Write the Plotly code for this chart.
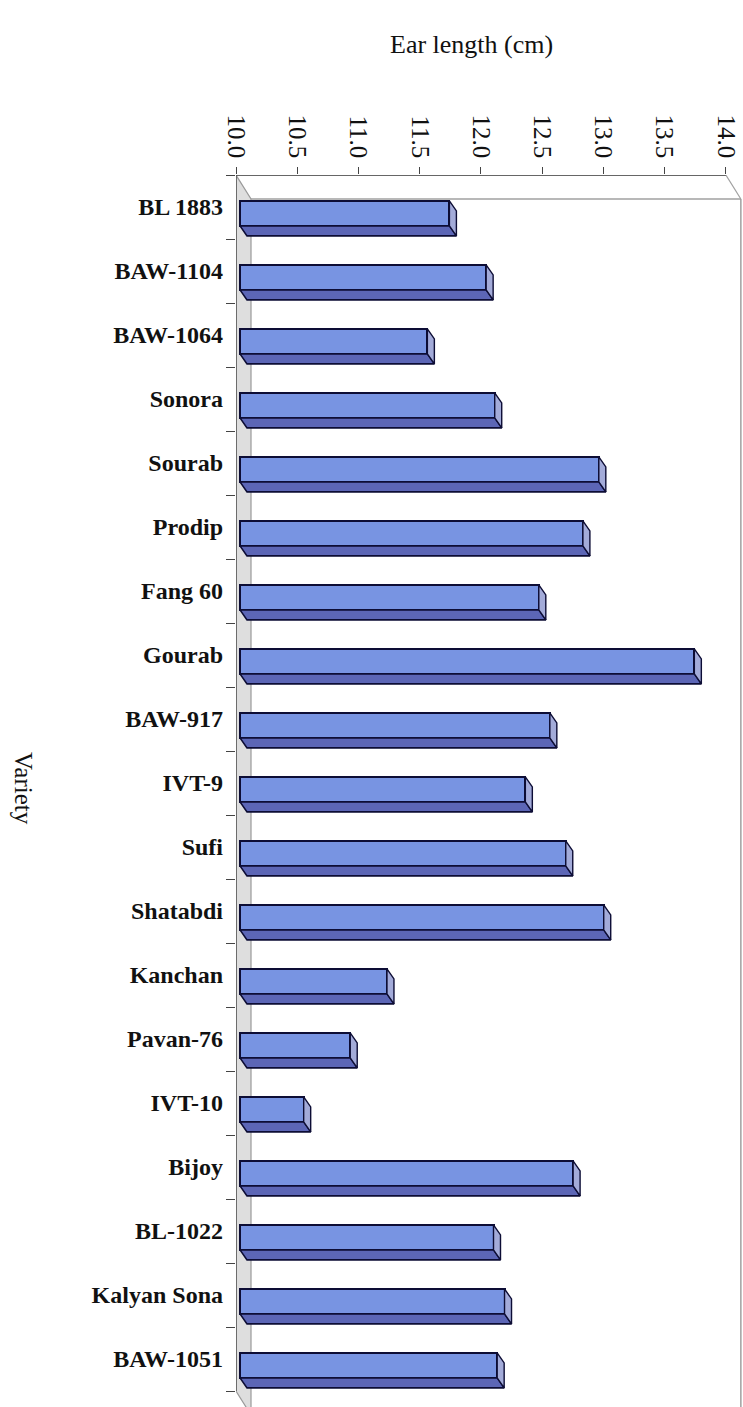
import numpy as np
import plotly.graph_objects as go

# ---------------- data ----------------
varieties = ["BL 1883", "BAW-1104", "BAW-1064", "Sonora", "Sourab", "Prodip",
             "Fang 60", "Gourab", "BAW-917", "IVT-9", "Sufi", "Shatabdi",
             "Kanchan", "Pavan-76", "IVT-10", "Bijoy", "BL-1022",
             "Kalyan Sona", "BAW-1051"]
ear_length = [11.71, 12.01, 11.53, 12.08, 12.93, 12.80, 12.44, 13.71, 12.53,
              12.33, 12.66, 12.97, 11.20, 10.90, 10.52, 12.72, 12.07, 12.16, 12.10]
x_ticks = [10.0, 10.5, 11.0, 11.5, 12.0, 12.5, 13.0, 13.5, 14.0]

# ---------------- geometry / style ----------------
W, H = 743, 1407
ML, MT = 236, 175
XMIN, XMAX = 10.0, 14.14
YTOP, YBOT = -0.5, 18.75
px_x = (W - ML) / (XMAX - XMIN)          # pixels per cm
px_y = (H - MT) / (YBOT - YTOP)          # pixels per category

WALL_DX = 15 / px_x
WALL_DY = 24 / px_y
BAR_DX = 7 / px_x
BAR_DY = 10 / px_y
BAR_OFF_X = 4 / px_x
BAR_OFF_Y = 6.4 / px_y
BAR_W = 25 / px_y

FRONT = "#7894e2"
BOTTOM = "#5c66b6"
SIDE = "#a3abd9"
EDGE = "#0d0d35"
SERIF = "Times New Roman, Liberation Serif, Tinos, serif"

pos = np.arange(len(varieties), dtype=float)
vals = np.array(ear_length)
base0 = XMIN + BAR_OFF_X
lengths = vals - XMIN
yc = pos + BAR_OFF_Y
yt = yc - BAR_W / 2
yb = yc + BAR_W / 2
xe = base0 + lengths

fig = go.Figure()

# bottom faces
bx, by = [], []
for x1, t, b in zip(xe, yt, yb):
    bx += [base0, x1, x1 + BAR_DX, base0 + BAR_DX, base0, None]
    by += [b, b, b + BAR_DY, b + BAR_DY, b, None]
fig.add_trace(go.Scatter(x=bx, y=by, mode="lines", fill="toself",
                         fillcolor=BOTTOM, line=dict(color=EDGE, width=1.6),
                         hoverinfo="skip", showlegend=False))
# side faces
sx, sy = [], []
for x1, t, b in zip(xe, yt, yb):
    sx += [x1, x1 + BAR_DX, x1 + BAR_DX, x1, x1, None]
    sy += [t, t + BAR_DY, b + BAR_DY, b, t, None]
fig.add_trace(go.Scatter(x=sx, y=sy, mode="lines", fill="toself",
                         fillcolor=SIDE, line=dict(color=EDGE, width=1.4),
                         hoverinfo="skip", showlegend=False))
# front faces
fig.add_trace(go.Bar(y=yc, x=lengths, base=base0, orientation="h", width=BAR_W,
                     marker=dict(color=FRONT, line=dict(color=EDGE, width=2)),
                     showlegend=False, hovertext=varieties))

# ---------------- walls / frame ----------------
shapes = []
x0w, x1w = XMIN, XMIN + WALL_DX
ytf, ybf = YTOP, len(varieties) - 0.5
shapes.append(dict(type="path", xref="x", yref="y",
                   path=f"M {x0w},{ytf} L {x1w},{ytf+WALL_DY} L {x1w},{ybf+WALL_DY} L {x0w},{ybf} Z",
                   fillcolor="#dedede", line=dict(color="#9a9a9a", width=1.2), layer="below"))
shapes.append(dict(type="line", xref="x", yref="y", x0=x1w, y0=ytf + WALL_DY,
                   x1=14.0 + WALL_DX, y1=ytf + WALL_DY, line=dict(color="#a0a0a0", width=1.5), layer="below"))
shapes.append(dict(type="line", xref="x", yref="y", x0=14.0 + WALL_DX, y0=ytf + WALL_DY,
                   x1=14.0 + WALL_DX, y1=ybf + WALL_DY, line=dict(color="#a0a0a0", width=1.5), layer="below"))
shapes.append(dict(type="line", xref="x", yref="y", x0=14.0, y0=ytf,
                   x1=14.0 + WALL_DX, y1=ytf + WALL_DY, line=dict(color="#a0a0a0", width=1.2), layer="below"))
shapes.append(dict(type="line", xref="x", yref="y", x0=XMIN, y0=ytf, x1=14.0, y1=ytf,
                   line=dict(color="#333333", width=1.5)))
shapes.append(dict(type="line", xref="x", yref="y", x0=XMIN, y0=ytf, x1=XMIN, y1=ybf,
                   line=dict(color="#555555", width=1.5)))

fig.update_layout(
    width=W, height=H,
    margin=dict(l=ML, r=0, t=MT, b=0, autoexpand=False),
    paper_bgcolor="white", plot_bgcolor="white",
    font=dict(family=SERIF),
    shapes=shapes,
    bargap=0,
    xaxis=dict(range=[XMIN, XMAX], side="top", tickvals=x_ticks,
               ticktext=[f"{t:.1f}" for t in x_ticks], tickangle=90,
               ticks="outside", ticklen=7, tickcolor="#444444", tickwidth=1.2,
               showgrid=False, zeroline=False, showline=False,
               tickfont=dict(family=SERIF, size=25, color="#111111")),
    yaxis=dict(range=[YBOT, YTOP], tickvals=pos.tolist(), ticktext=varieties,
               ticks="", ticklabelstandoff=12,
               minor=dict(tick0=-0.5, dtick=1, ticks="outside", ticklen=9,
                          tickcolor="#444444", tickwidth=1.2, showgrid=False),
               showgrid=False, zeroline=False, showline=False,
               tickfont=dict(family=SERIF, size=24, color="#111111",
                             weight="bold")),
    annotations=[
        dict(text="Ear length (cm)", xref="paper", yref="paper",
             x=(471 - ML) / (W - ML), y=1 + (MT - 45) / (H - MT),
             xanchor="center", yanchor="middle", showarrow=False,
             font=dict(family=SERIF, size=26, color="#111111")),
        dict(text="Variety", xref="paper", yref="paper",
             x=(24 - ML) / (W - ML), y=1 - (788 - MT) / (H - MT),
             xanchor="center", yanchor="middle", showarrow=False, textangle=90,
             font=dict(family=SERIF, size=25, color="#111111")),
    ],
)

fig.write_html("out.html")
